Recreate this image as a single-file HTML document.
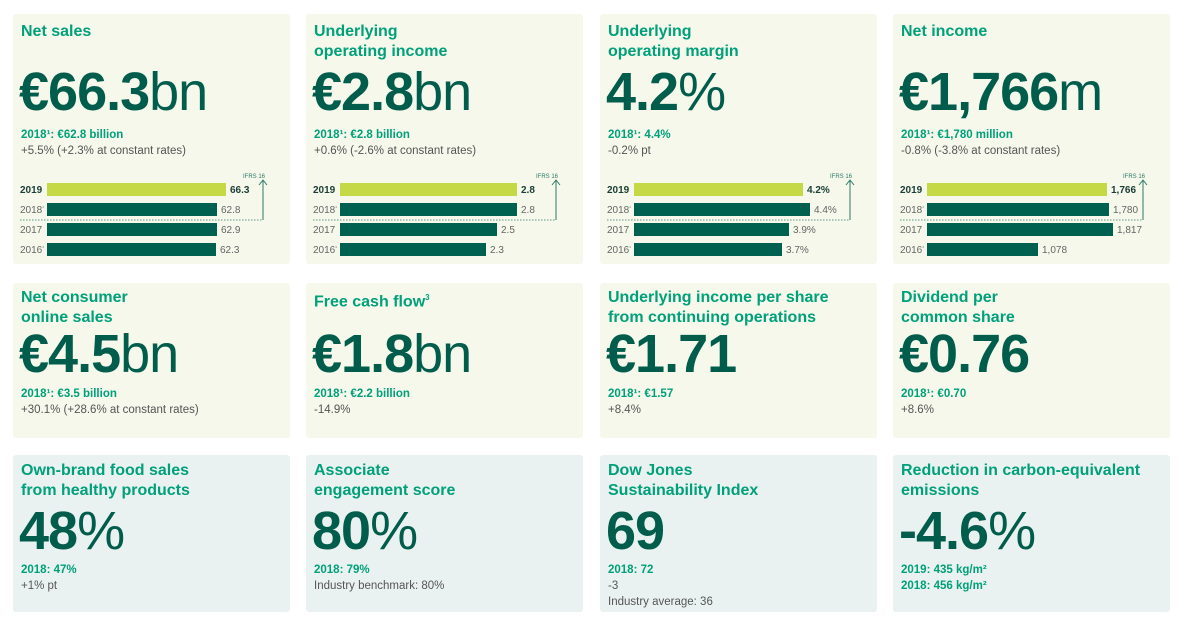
<!DOCTYPE html>
<html><head><meta charset="utf-8"><style>
*{margin:0;padding:0;box-sizing:border-box}
body{width:1184px;height:622px;background:#fff;font-family:"Liberation Sans",sans-serif;position:relative;overflow:hidden}
.c{position:absolute;width:277px;border-radius:3px}
.a{background:#f5f8eb}
.b{background:#eaf2f1}
.t{position:absolute;left:8px;color:#00a07a;font-weight:bold;font-size:16px;line-height:19.5px}
.n{position:absolute;left:6px;color:#005c4b;font-size:54px;line-height:54px;letter-spacing:-1px}
.n b{font-weight:bold}
.s{position:absolute;left:8px;font-size:11.5px;line-height:16px;color:#555}
.s .g{color:#00a07a;font-weight:bold}
</style></head><body>
<!-- row 1 -->
<div class="c a" style="left:13px;top:14px;height:250px">
<div class="t" style="top:8px">Net sales</div>
<div class="n" style="top:51px"><b>€66.3</b>bn</div>
<div class="s" style="top:113px"><span class="g">2018¹: €62.8 billion</span><br>+5.5% (+2.3% at constant rates)</div>
</div>
<div class="c a" style="left:306px;top:14px;height:250px">
<div class="t" style="top:8px">Underlying<br>operating income</div>
<div class="n" style="top:51px"><b>€2.8</b>bn</div>
<div class="s" style="top:113px"><span class="g">2018¹: €2.8 billion</span><br>+0.6% (-2.6% at constant rates)</div>
</div>
<div class="c a" style="left:600px;top:14px;height:250px">
<div class="t" style="top:8px">Underlying<br>operating margin</div>
<div class="n" style="top:51px"><b>4.2</b>%</div>
<div class="s" style="top:113px"><span class="g">2018¹: 4.4%</span><br>-0.2% pt</div>
</div>
<div class="c a" style="left:893px;top:14px;height:250px">
<div class="t" style="top:8px">Net income</div>
<div class="n" style="top:51px"><b>€1,766</b>m</div>
<div class="s" style="top:113px"><span class="g">2018¹: €1,780 million</span><br>-0.8% (-3.8% at constant rates)</div>
</div>
<!-- row 2 -->
<div class="c a" style="left:13px;top:283px;height:155px">
<div class="t" style="top:5px">Net consumer<br>online sales</div>
<div class="n" style="top:44px"><b>€4.5</b>bn</div>
<div class="s" style="top:103px"><span class="g">2018¹: €3.5 billion</span><br>+30.1% (+28.6% at constant rates)</div>
</div>
<div class="c a" style="left:306px;top:283px;height:155px">
<div class="t" style="top:5px">Free cash flow<sup style="font-size:8px">3</sup></div>
<div class="n" style="top:44px"><b>€1.8</b>bn</div>
<div class="s" style="top:103px"><span class="g">2018¹: €2.2 billion</span><br>-14.9%</div>
</div>
<div class="c a" style="left:600px;top:283px;height:155px">
<div class="t" style="top:5px">Underlying income per share<br>from continuing operations</div>
<div class="n" style="top:44px"><b>€1.71</b></div>
<div class="s" style="top:103px"><span class="g">2018¹: €1.57</span><br>+8.4%</div>
</div>
<div class="c a" style="left:893px;top:283px;height:155px">
<div class="t" style="top:5px">Dividend per<br>common share</div>
<div class="n" style="top:44px"><b>€0.76</b></div>
<div class="s" style="top:103px"><span class="g">2018¹: €0.70</span><br>+8.6%</div>
</div>
<!-- row 3 -->
<div class="c b" style="left:13px;top:455px;height:157px">
<div class="t" style="top:6px">Own-brand food sales<br>from healthy products</div>
<div class="n" style="top:49px"><b>48</b>%</div>
<div class="s" style="top:107px"><span class="g">2018: 47%</span><br>+1% pt</div>
</div>
<div class="c b" style="left:306px;top:455px;height:157px">
<div class="t" style="top:6px">Associate<br>engagement score</div>
<div class="n" style="top:49px"><b>80</b>%</div>
<div class="s" style="top:107px"><span class="g">2018: 79%</span><br>Industry benchmark: 80%</div>
</div>
<div class="c b" style="left:600px;top:455px;height:157px">
<div class="t" style="top:6px">Dow Jones<br>Sustainability Index</div>
<div class="n" style="top:49px"><b>69</b></div>
<div class="s" style="top:107px"><span class="g">2018: 72</span><br>-3<br>Industry average: 36</div>
</div>
<div class="c b" style="left:893px;top:455px;height:157px">
<div class="t" style="top:6px">Reduction in carbon-equivalent<br>emissions</div>
<div class="n" style="top:49px"><b>-4.6</b>%</div>
<div class="s" style="top:107px"><span class="g">2019: 435 kg/m²<br>2018: 456 kg/m²</span></div>
</div>

<svg width="1184" height="622" style="position:absolute;left:0;top:0" font-family="Liberation Sans" font-size="10">
<g id="c1"></g>
</svg>
<script>
var cards=[
 {x:13,vals:["66.3","62.8","62.9","62.3"],ends:[226,217,217,216]},
 {x:306,vals:["2.8","2.8","2.5","2.3"],ends:[517,517,497,486]},
 {x:600,vals:["4.2%","4.4%","3.9%","3.7%"],ends:[803,810,789,782]},
 {x:893,vals:["1,766","1,780","1,817","1,078"],ends:[1107,1109,1113,1038]}
];
var yrs=["2019","2018","2017","2016"],sup=["","¹","","¹"];
var h="";
cards.forEach(function(c){
 var bs=c.x+34;
 for(var i=0;i<4;i++){
  var y=183+i*20;
  h+='<rect x="'+bs+'" y="'+y+'" width="'+(c.ends[i]-bs)+'" height="13" fill="'+(i==0?'#c5d845':'#006150')+'"/>';
  h+='<text x="'+(c.x+7)+'" y="'+(y+10)+'" fill="'+(i==0?'#1a3d36':'#666')+'" font-weight="'+(i==0?'bold':'normal')+'">'+yrs[i]+'<tspan font-size="5" dy="-4">'+sup[i]+'</tspan></text>';
  h+='<text x="'+(c.ends[i]+4)+'" y="'+(y+10)+'" fill="'+(i==0?'#1a3d36':'#666')+'" font-weight="'+(i==0?'bold':'normal')+'">'+c.vals[i]+'</text>';
 }
 var ax=c.x+250;
 h+='<line x1="'+(c.x+7)+'" y1="220" x2="'+ax+'" y2="220" stroke="#2b7a6a" stroke-width="0.8" stroke-dasharray="1.5,1.5"/>';
 h+='<line x1="'+ax+'" y1="220" x2="'+ax+'" y2="181" stroke="#2b7a6a" stroke-width="1"/>';
 h+='<path d="M'+(ax-4)+' 185 L'+ax+' 180 L'+(ax+4)+' 185" fill="none" stroke="#2b7a6a" stroke-width="1"/>';
 h+='<text x="'+(ax+2)+'" y="178" font-size="6" fill="#2b7a6a" text-anchor="end">IFRS 16</text>';
});
document.getElementById("c1").innerHTML=h;
</script>
</body></html>
